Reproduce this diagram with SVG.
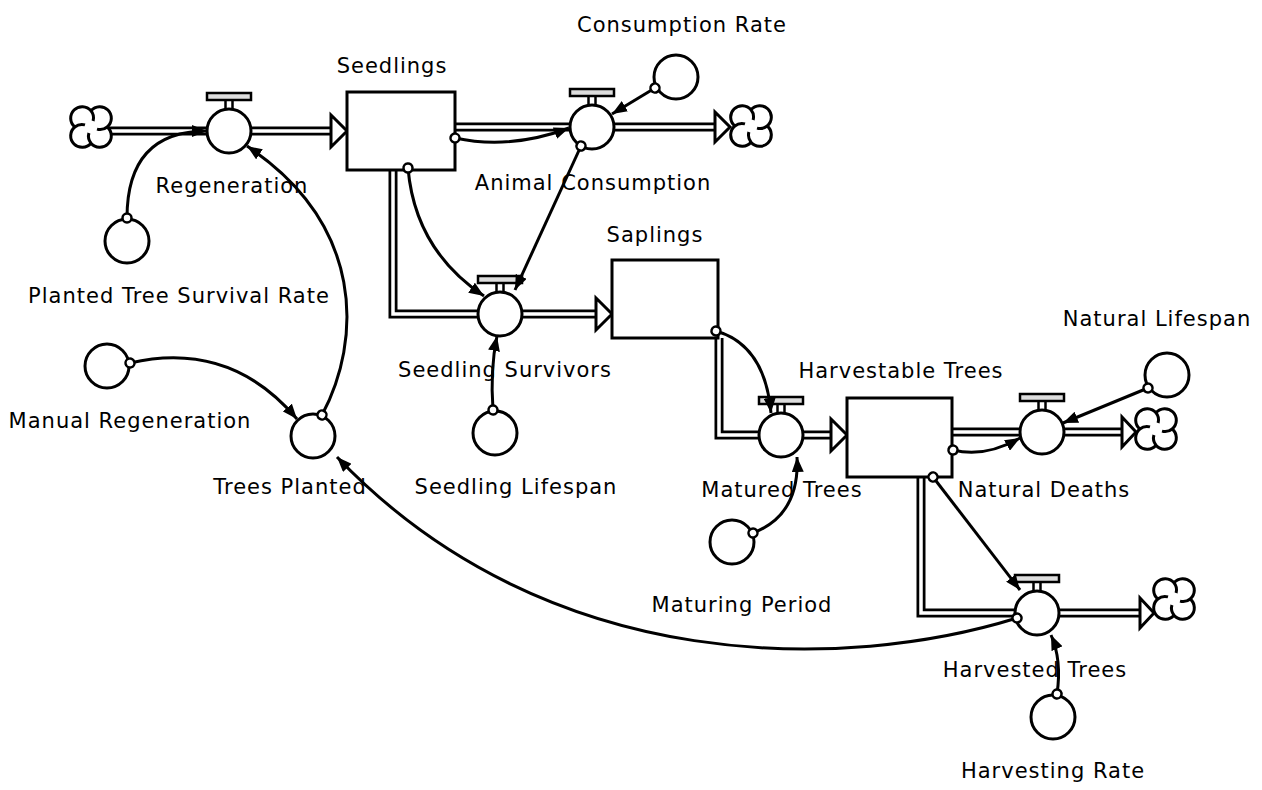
<svg xmlns="http://www.w3.org/2000/svg" width="1262" height="790" viewBox="0 0 1262 790">
<style>
text{font-family:"DejaVu Sans",Verdana,sans-serif;font-size:21px;letter-spacing:1px;fill:#000;text-anchor:middle}
.stock{fill:#fff;stroke:#000;stroke-width:3}
.aux{fill:#fff;stroke:#000;stroke-width:3}
.po{fill:none;stroke:#000;stroke-width:9;stroke-linejoin:miter}
.pi{fill:none;stroke:#fff;stroke-width:3.5;stroke-linejoin:miter}
.head{fill:#fff;stroke:#000;stroke-width:3;stroke-linejoin:miter}
.link{fill:none;stroke:#000;stroke-width:3;marker-start:url(#dot);marker-end:url(#arr)}
.cloud{fill:#fff;stroke:#000;stroke-width:3}
.vb{fill:#ddd;stroke:#000;stroke-width:2.5}
.vs{stroke:#000;stroke-width:2.5}
.vc{fill:#fff;stroke:#000;stroke-width:3}
</style>
<defs>
<marker id="arr" markerUnits="userSpaceOnUse" markerWidth="16" markerHeight="12" refX="15" refY="6" orient="auto"><path d="M0,0 L15,6 L0,12 Z" fill="#000"/></marker>
<marker id="dot" markerUnits="userSpaceOnUse" markerWidth="14" markerHeight="14" refX="7" refY="7" orient="auto"><circle cx="7" cy="7" r="4.5" fill="#fff" stroke="#000" stroke-width="2.5"/></marker>
<g id="cloudsym"><path class="cloud" d="M0,-16.2 A11.5,11.5 0 1 1 16.2,0 A11.5,11.5 0 1 1 0,16.2 A11.5,11.5 0 1 1 -16.2,0 A11.5,11.5 0 1 1 0,-16.2 Z M16.2,0 A11.5,11.5 0 0 1 6,2.1 M0,16.2 A11.5,11.5 0 0 1 -2.1,6 M-16.2,0 A11.5,11.5 0 0 1 -6,-2.1 M0,-16.2 A11.5,11.5 0 0 1 2.1,-6"/></g>
<g id="valve"><line class="vs" x1="-3.5" y1="-31" x2="-3.5" y2="-21"/><line class="vs" x1="3.5" y1="-31" x2="3.5" y2="-21"/><rect class="vb" x="-22" y="-38" width="44" height="7"/><circle class="vc" r="22"/></g>
</defs>

<g id="flows">
<path class="po" d="M108,131 L332,131"/><path class="pi" d="M108,131 L332,131"/>
<polygon class="head" points="331,115 347,131 331,147"/>
<path class="po" d="M455,127 L716,127"/><path class="pi" d="M455,127 L716,127"/>
<polygon class="head" points="715,112 730,127 715,142"/>
<path class="po" d="M393,170 L393,314 L597,314"/><path class="pi" d="M393,170 L393,314 L597,314"/>
<polygon class="head" points="596,298 612,314 596,330"/>
<path class="po" d="M719,338 L719,435 L832,435"/><path class="pi" d="M719,338 L719,435 L832,435"/>
<polygon class="head" points="831,419 847,435 831,451"/>
<path class="po" d="M952,432 L1123,432"/><path class="pi" d="M952,432 L1123,432"/>
<polygon class="head" points="1122,417 1136,432 1122,447"/>
<path class="po" d="M921,477 L921,613 L1141,613"/><path class="pi" d="M921,477 L921,613 L1141,613"/>
<polygon class="head" points="1140,598 1154,613 1140,628"/>
</g>

<g id="cloud-source"><use href="#cloudsym" transform="translate(91,127)"/></g>
<g id="cloud-consumed"><use href="#cloudsym" transform="translate(751,126)"/></g>
<g id="cloud-dead"><use href="#cloudsym" transform="translate(1156,429)"/></g>
<g id="cloud-harvested"><use href="#cloudsym" transform="translate(1174,599)"/></g>

<g id="seedlings"><rect class="stock" x="347" y="92" width="108" height="78"/><text x="392" y="73">Seedlings</text></g>
<g id="saplings"><rect class="stock" x="612" y="260" width="106" height="78"/><text x="655" y="242">Saplings</text></g>
<g id="harvestable-trees"><rect class="stock" x="847" y="398" width="105" height="79"/><text x="901" y="378">Harvestable Trees</text></g>

<g id="regeneration"><use href="#valve" transform="translate(229,131)"/><text x="232" y="193">Regeneration</text></g>
<g id="animal-consumption"><use href="#valve" transform="translate(592,127)"/><text x="593" y="190">Animal Consumption</text></g>
<g id="seedling-survivors"><use href="#valve" transform="translate(500,314)"/><text x="505" y="377">Seedling Survivors</text></g>
<g id="matured-trees"><use href="#valve" transform="translate(781,435)"/><text x="782" y="497">Matured Trees</text></g>
<g id="natural-deaths"><use href="#valve" transform="translate(1042,432)"/><text x="1044" y="497">Natural Deaths</text></g>
<g id="harvested-trees"><use href="#valve" transform="translate(1037,613)"/><text x="1035" y="677">Harvested Trees</text></g>

<g id="consumption-rate"><circle class="aux" cx="676" cy="77" r="22"/><text x="682" y="32">Consumption Rate</text></g>
<g id="planted-tree-survival-rate"><circle class="aux" cx="127" cy="241" r="22"/><text x="179" y="303">Planted Tree Survival Rate</text></g>
<g id="manual-regeneration"><circle class="aux" cx="107" cy="366" r="22"/><text x="130" y="428">Manual Regeneration</text></g>
<g id="trees-planted"><circle class="aux" cx="313" cy="436" r="22"/><text x="290" y="494">Trees Planted</text></g>
<g id="seedling-lifespan"><circle class="aux" cx="495" cy="433" r="22"/><text x="516" y="494">Seedling Lifespan</text></g>
<g id="maturing-period"><circle class="aux" cx="732" cy="542" r="22"/><text x="742" y="612">Maturing Period</text></g>
<g id="natural-lifespan"><circle class="aux" cx="1167" cy="375" r="22"/><text x="1157" y="326">Natural Lifespan</text></g>
<g id="harvesting-rate"><circle class="aux" cx="1053" cy="717" r="22"/><text x="1053" y="778">Harvesting Rate</text></g>

<g id="connectors">
<path class="link" d="M127,218 Q127,131 207,131"/>
<path class="link" d="M322,415 C362,340 365,225 247,146"/>
<path class="link" d="M130,363 Q230,340 297,419"/>
<path class="link" d="M1017,618 C850,670 550,680 337,457"/>
<path class="link" d="M455,138 Q510,150 569,128"/>
<path class="link" d="M655,88 L612,114"/>
<path class="link" d="M581,146 L515,290"/>
<path class="link" d="M408,168 Q415,250 484,296"/>
<path class="link" d="M493,410 Q490,370 497,336"/>
<path class="link" d="M716,331 Q765,345 771,413"/>
<path class="link" d="M753,533 Q800,515 797,457"/>
<path class="link" d="M953,450 Q985,458 1020,438"/>
<path class="link" d="M1148,388 L1063,423"/>
<path class="link" d="M933,477 L1020,590"/>
<path class="link" d="M1057,694 Q1062,660 1051,635"/>
</g>
</svg>
